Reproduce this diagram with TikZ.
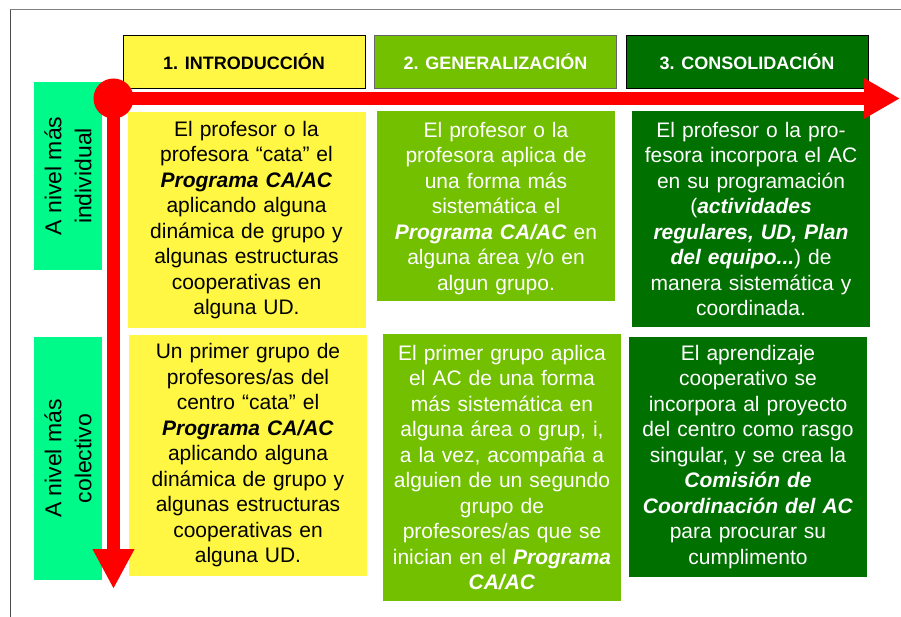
\documentclass[tikz,border=0pt]{standalone}
\usepackage{fontspec}
\setmainfont{Liberation Sans}
\usetikzlibrary{arrows.meta}
\definecolor{yel}{RGB}{255,247,68}
\definecolor{lime}{RGB}{114,192,0}
\definecolor{dkgreen}{RGB}{0,112,0}
\definecolor{spring}{RGB}{0,250,138}
\definecolor{axisred}{RGB}{255,0,0}
\newcommand{\bi}[1]{\textbf{\textit{#1}}}
\begin{document}
\begin{tikzpicture}[x=1pt,y=-1pt,
  hdr/.style={draw=black, line width=0.8pt, minimum width=242pt, minimum height=53pt, inner sep=0pt, font=\fontsize{18}{21}\selectfont\bfseries},
  cell/.style={inner sep=0pt, text width=238pt, align=center, font=\fontsize{21}{25.5}\selectfont},
  lvl/.style={fill=spring, rotate=90, inner sep=0pt, align=center, minimum height=68pt, font=\fontsize{23}{30}\selectfont},
  axis/.style={line width=13pt, draw=axisred}
]
\useasboundingbox (0,0) rectangle (901,617);
% frame
\draw[line width=1pt, gray] (10,10) -- (910,10);
\draw[line width=1pt, black!70] (10,10) -- (10,625);

% headers
\node[hdr, fill=yel, text=black] (h1) at (244,61.5) {1. INTRODUCCIÓN};
\node[hdr, fill=lime, text=white, draw=black!60] (h2) at (495.5,61.5) {2. GENERALIZACIÓN};
\node[hdr, fill=dkgreen, text=white] (h3) at (747,61.5) {3. CONSOLIDACIÓN};

% level labels
\node[lvl, minimum width=188pt] (l1) at (68,176) {A nivel más\\individual};
\node[lvl, minimum width=243pt] (l2) at (68,458.5) {A nivel más\\colectivo};

% row 1
\node[cell, fill=yel, text=black, minimum height=216pt] (c11) at (246.5,220) {El profesor o la\\
profesora “cata” el\\
\bi{Programa CA/AC}\\
aplicando alguna\\
dinámica de grupo y\\
algunas estructuras\\
cooperativas en\\
alguna UD.};
\node[cell, fill=lime, text=white, minimum height=190pt] (c12) at (496,206) {\rule{0pt}{20pt}El profesor o la\\
profesora aplica de\\
una forma más\\
sistemática el\\
\bi{Programa CA/AC} en\\
alguna área y/o en\\
algun grupo.};
\node[cell, fill=dkgreen, text=white, minimum height=216pt] (c13) at (751,219) {El profesor o la pro-\\
fesora incorpora el AC\\
en su programación\\
(\bi{actividades}\\
\bi{regulares, UD, Plan}\\
\bi{del equipo...})\ de\\
manera sistemática y\\
coordinada.};

% row 2
\node[cell, fill=yel, text=black, minimum height=241pt] (c21) at (248,455.5) {Un primer grupo de\\
profesores/as del\\
centro “cata” el\\
\bi{Programa CA/AC}\\
aplicando alguna\\
dinámica de grupo y\\
algunas estructuras\\
cooperativas en\\
alguna UD.};
\node[cell, fill=lime, text=white, minimum height=267pt] (c22) at (502,467.5) {El primer grupo aplica\\
el AC de una forma\\
más sistemática en\\
alguna área o grup, i,\\
a la vez, acompaña a\\
alguien de un segundo\\
grupo de\\
profesores/as que se\\
inician en el \bi{Programa}\\
\bi{CA/AC}};
\node[cell, fill=dkgreen, text=white, minimum height=240pt] (c23) at (748,457) {El aprendizaje\\
cooperativo se\\
incorpora al proyecto\\
del centro como rasgo\\
singular, y se crea la\\
\bi{Comisión de}\\
\bi{Coordinación del AC}\\
para procurar su\\
cumplimento};

% axes
\node[circle, fill=axisred, minimum size=40pt, inner sep=0pt] (origin) at (113.5,98.5) {};
\coordinate (hend) at (900,98.5);
\coordinate (vend) at (113.5,589);
\draw[axis, -{Triangle[length=36pt,width=38pt]}] (origin.center) -- (hend);
\draw[axis, -{Triangle[length=40pt,width=39pt]}] (origin.center) -- (vend);
\end{tikzpicture}
\end{document}
